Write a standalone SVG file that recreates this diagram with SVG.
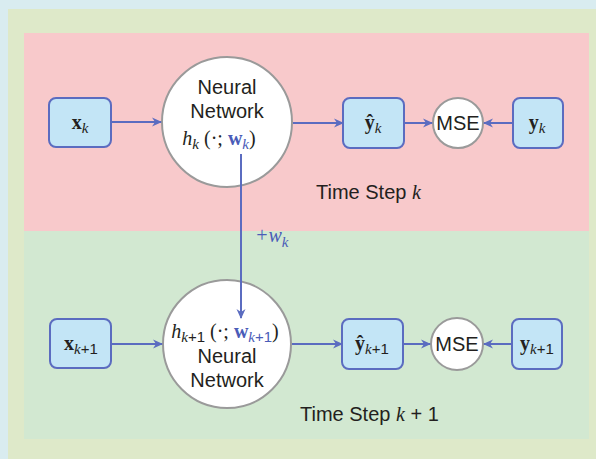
<svg xmlns="http://www.w3.org/2000/svg" width="596" height="459" viewBox="0 0 596 459">
<defs>
<marker id="ah" viewBox="0 0 10 10" refX="9" refY="5" markerWidth="10" markerHeight="10" markerUnits="userSpaceOnUse" orient="auto">
<path d="M0,0.5 L10,5 L0,9.5 L3,5 z" fill="#5b6cc0"/>
</marker>
<style>
.box{fill:#c3e5f6;stroke:#5b6cc0;stroke-width:2}
.circ{fill:#ffffff;stroke:#9a9a9a;stroke-width:2}
.edge{stroke:#5b6cc0;stroke-width:2;fill:none;marker-end:url(#ah)}
.sans{font-family:"Liberation Sans",Arial,sans-serif;font-size:20px;fill:#231f20}
.math{font-family:"Liberation Serif","Times New Roman",serif;font-size:20px;fill:#231f20}
.it{font-style:italic}
.bd{font-weight:bold}
.blue{fill:#4a5cb8}
.sub{font-size:15px}
.subs{font-family:"Liberation Sans",Arial,sans-serif;font-size:15px;font-style:normal}
</style>
</defs>
<rect x="0" y="0" width="596" height="459" fill="#d9ecf0"/>
<rect x="8" y="9" width="588" height="450" fill="#dee9c9"/>
<rect x="24" y="33" width="565" height="198" fill="#f8c9cb"/>
<rect x="24" y="231" width="565" height="208" fill="#d2e8d1"/>

<g id="xk">
<rect class="box" x="49" y="98" width="62" height="49" rx="7"/>
<text x="80" y="129" class="math" text-anchor="middle"><tspan class="bd">x</tspan><tspan class="it sub" dy="4">k</tspan></text>
</g>
<g id="nn_k">
<circle class="circ" cx="227" cy="122" r="65"/>
<text x="227" y="94" class="sans" text-anchor="middle">Neural</text>
<text x="227" y="118" class="sans" text-anchor="middle">Network</text>
<text x="219" y="145" class="math" text-anchor="middle"><tspan class="it">h</tspan><tspan class="it sub" dy="4">k</tspan><tspan dy="-4"> (·; </tspan><tspan class="bd blue">w</tspan><tspan class="it sub blue" dy="4">k</tspan><tspan dy="-4">)</tspan></text>
</g>
<g id="yhat_k">
<rect class="box" x="343" y="98" width="61" height="50" rx="7"/>
<text x="373" y="129" class="math" text-anchor="middle"><tspan class="bd">ŷ</tspan><tspan class="it sub" dy="4">k</tspan></text>
</g>
<g id="mse_k">
<circle class="circ" cx="458" cy="123" r="25"/>
<text x="458" y="130" class="sans" text-anchor="middle">MSE</text>
</g>
<g id="y_k">
<rect class="box" x="513" y="98" width="50" height="50" rx="7"/>
<text x="537" y="129" class="math" text-anchor="middle"><tspan class="bd">y</tspan><tspan class="it sub" dy="4">k</tspan></text>
</g>
<g id="label_k">
<text x="316" y="199" class="sans">Time Step <tspan class="math it">k</tspan></text>
</g>

<g id="xk1">
<rect class="box" x="50" y="319" width="61" height="49" rx="7"/>
<text x="81" y="350" class="math" text-anchor="middle"><tspan class="bd">x</tspan><tspan class="it sub" dy="4">k</tspan><tspan class="subs">+1</tspan></text>
</g>
<g id="nn_k1">
<circle class="circ" cx="227" cy="344" r="64"/>
<text x="225" y="338" class="math" text-anchor="middle"><tspan class="it">h</tspan><tspan class="it sub" dy="4">k</tspan><tspan class="subs">+1</tspan><tspan dy="-4"> (·; </tspan><tspan class="bd blue">w</tspan><tspan class="it sub blue" dy="4">k</tspan><tspan class="subs blue">+1</tspan><tspan dy="-4">)</tspan></text>
<text x="227" y="363" class="sans" text-anchor="middle">Neural</text>
<text x="227" y="387" class="sans" text-anchor="middle">Network</text>
</g>
<g id="yhat_k1">
<rect class="box" x="342" y="319" width="61" height="50" rx="7"/>
<text x="372" y="350" class="math" text-anchor="middle"><tspan class="bd">ŷ</tspan><tspan class="it sub" dy="4">k</tspan><tspan class="subs">+1</tspan></text>
</g>
<g id="mse_k1">
<circle class="circ" cx="457" cy="344" r="26"/>
<text x="457" y="351" class="sans" text-anchor="middle">MSE</text>
</g>
<g id="y_k1">
<rect class="box" x="512" y="319" width="50" height="50" rx="7"/>
<text x="537" y="350" class="math" text-anchor="middle"><tspan class="bd">y</tspan><tspan class="it sub" dy="4">k</tspan><tspan class="subs">+1</tspan></text>
</g>
<g id="label_k1">
<text x="300" y="421" class="sans">Time Step <tspan class="math it">k</tspan> + 1</text>
</g>

<g id="connectors">
<line class="edge" x1="111" y1="122" x2="161" y2="122"/>
<line class="edge" x1="293" y1="123" x2="343" y2="123"/>
<line class="edge" x1="404" y1="123" x2="432" y2="123"/>
<line class="edge" x1="513" y1="123" x2="484" y2="123"/>
<line class="edge" x1="241" y1="154" x2="241" y2="318"/>
<line class="edge" x1="111" y1="344" x2="162" y2="344"/>
<line class="edge" x1="292" y1="344" x2="342" y2="344"/>
<line class="edge" x1="403" y1="344" x2="430" y2="344"/>
<line class="edge" x1="512" y1="344" x2="484" y2="344"/>
<text x="255" y="242" class="math it blue">+<tspan>w</tspan><tspan class="sub" dy="5">k</tspan></text>
</g>
</svg>
